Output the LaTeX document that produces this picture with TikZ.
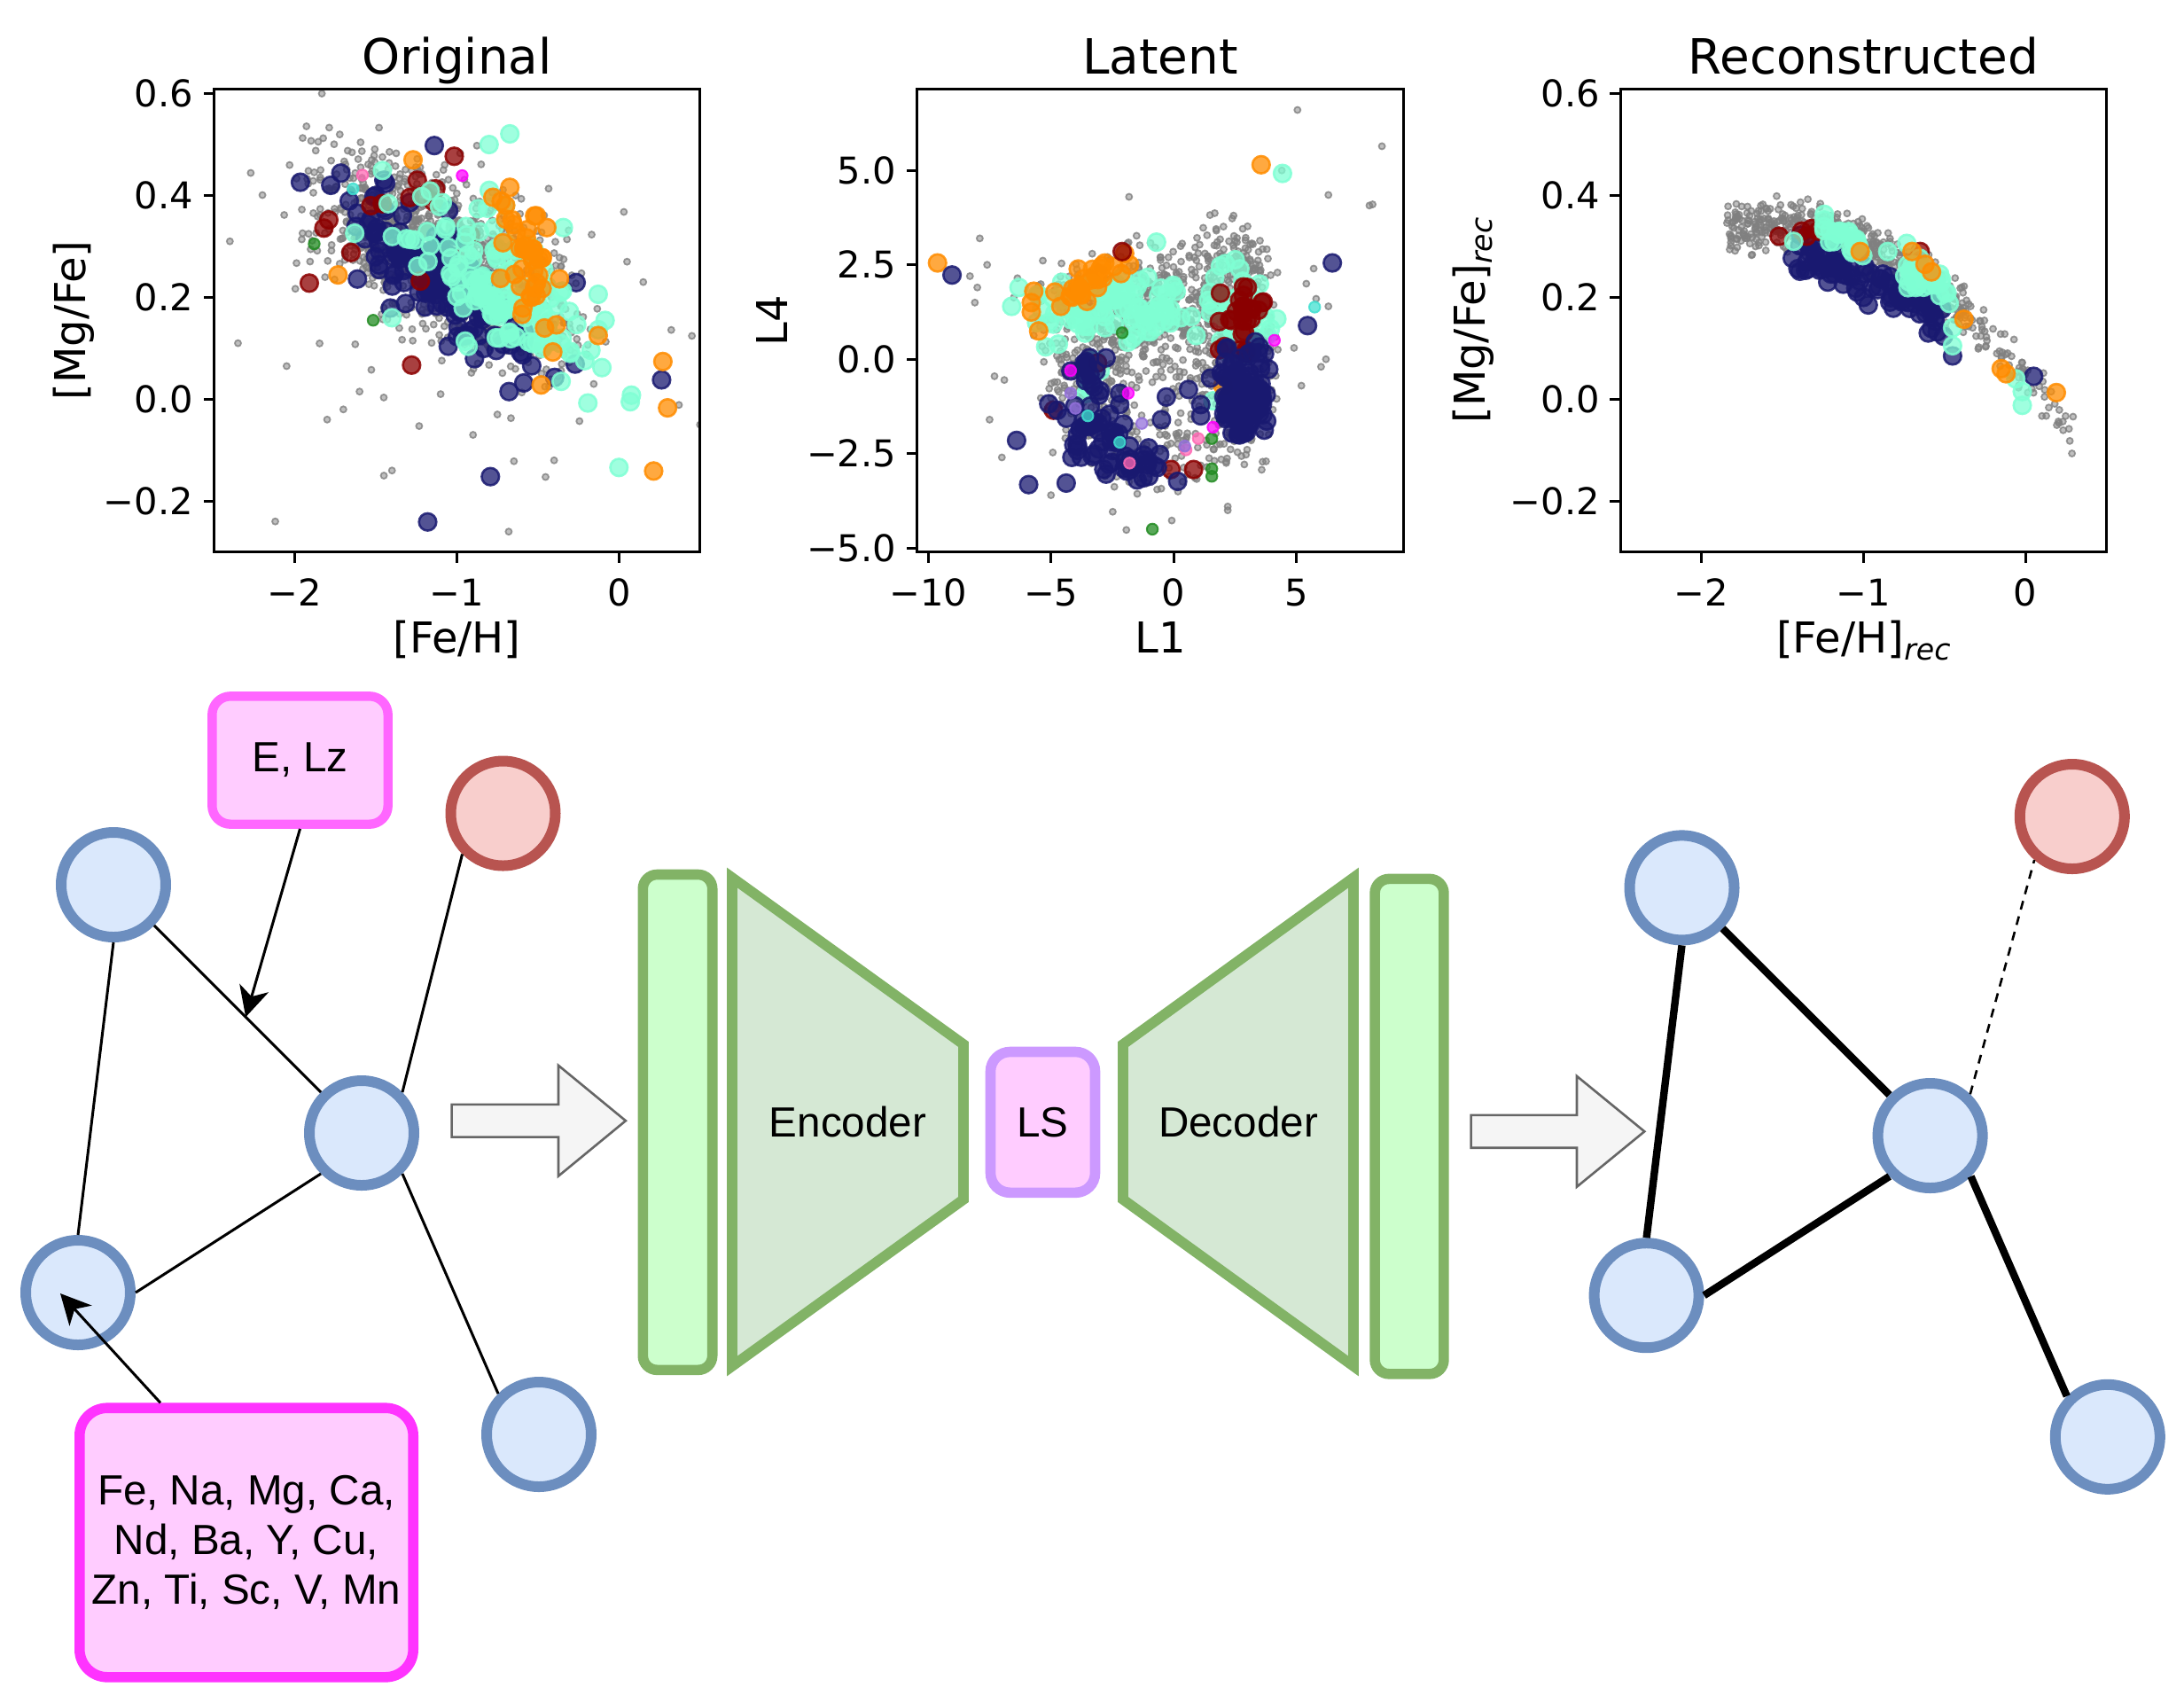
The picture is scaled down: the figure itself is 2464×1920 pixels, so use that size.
\documentclass[tikz,border=0pt]{standalone}
\usepackage{fontspec}
\setmainfont{Liberation Sans}
\newfontfamily\plotfont{DejaVu Sans}
\usetikzlibrary{arrows.meta,calc}
\definecolor{nodeblue}{HTML}{DAE8FC}
\definecolor{nodeblueB}{HTML}{6C8EBF}
\definecolor{nodered}{HTML}{F8CECC}
\definecolor{noderedB}{HTML}{B85450}
\definecolor{encfill}{HTML}{D5E8D4}
\definecolor{encdraw}{HTML}{82B366}
\definecolor{barfill}{HTML}{CCFFCC}
\definecolor{lsfill}{HTML}{FFCCFF}
\definecolor{lsdraw}{HTML}{CC99FF}
\definecolor{elzdraw}{HTML}{FF66FF}
\definecolor{abdraw}{HTML}{FF33FF}
\definecolor{arrfill}{HTML}{F5F5F5}
\definecolor{arrdraw}{HTML}{666666}
\definecolor{cnavy}{HTML}{191970}
\definecolor{cdred}{HTML}{8B0000}
\definecolor{corange}{HTML}{FF8C00}
\definecolor{caqua}{HTML}{7FFFD4}
\definecolor{cgreen}{HTML}{228B22}
\definecolor{cmag}{HTML}{FF00FF}
\definecolor{cpink}{HTML}{FF69B4}
\definecolor{cturq}{HTML}{40E0D0}
\definecolor{cpurp}{HTML}{9370DB}
\definecolor{cgray}{HTML}{808080}
\def\scr{3}
% gaussian-like cluster: N, style, cx, sx, cy, slope, sy
\newcommand\sccl[7]{%
  \foreach \k in {1,...,#1}{%
    \pgfmathsetmacro\xd{#3+#4*(rand+rand+rand)}%
    \pgfmathsetmacro\yd{#5+#6*(\xd-(#3))+#7*(rand+rand+rand)}%
    \fill[#2] ({\AX+\BX*(\xd)},{\AY-\BY*(\yd)}) circle[radius=\scr];}}
% cluster along curve: N, style, xmin, xrange, yoff, sy
\newcommand\sccc[6]{%
  \foreach \k in {1,...,#1}{%
    \pgfmathsetmacro\xd{#3+#4*rnd}%
    \pgfmathsetmacro\yd{0.0443-0.3495*(\xd)-0.1097*(\xd)*(\xd)+#5+#6*(rand+rand+rand)}%
    \fill[#2] ({\AX+\BX*(\xd)},{\AY-\BY*(\yd)}) circle[radius=\scr];}}
\newcommand\scpts[2]{\foreach \a/\b in {#2}{\fill[#1] ({\AX+\BX*(\a)},{\AY-\BY*(\b)}) circle[radius=\scr];}}
\begin{document}
\begin{tikzpicture}[x=0.25pt,y=-0.25pt,
  ticklab/.style={font={\plotfont\fontsize{10.4}{12}\selectfont},inner sep=0pt},
  axlab/.style={font={\plotfont\fontsize{12}{14}\selectfont},inner sep=0pt},
  ttl/.style={font={\plotfont\fontsize{13.7}{16}\selectfont},inner sep=0pt},
  axfr/.style={line width=0.75pt},
  gdot/.style={fill=cgray,fill opacity=0.5,draw=cgray,draw opacity=0.8,line width=0.45pt,/utils/exec=\def\scr{3.5}},
  scbig/.style={fill=#1,fill opacity=0.75,draw=#1,draw opacity=0.85,line width=0.65pt,/utils/exec=\def\scr{9.8}},
  scmed/.style={fill=#1,fill opacity=0.75,draw=#1,draw opacity=0.85,line width=0.5pt,/utils/exec=\def\scr{6.2}},
  dtext/.style={font={\fontsize{11.9}{14}\selectfont},inner sep=0pt},
  gnode/.style={circle,draw=nodeblueB,fill=nodeblue,line width=3pt,minimum size=29.5pt,inner sep=0pt},
  rnode/.style={gnode,draw=noderedB,fill=nodered},
  edgethin/.style={line width=0.75pt},
  edgebold/.style={line width=2.1pt},
  edgedash/.style={line width=0.65pt,dash pattern=on 2.5pt off 2pt},
  ptr/.style={-{Stealth[length=8.5pt,width=8.5pt,inset=2.5pt]}},
  barbox/.style={draw=encdraw,fill=barfill,line width=2.9pt,rounded corners=4pt,inner sep=0pt},
  trap/.style={draw=encdraw,fill=encfill,line width=2.9pt,miter limit=10},
  bigarrow/.style={draw=arrdraw,fill=arrfill,line width=0.65pt},
]
\useasboundingbox (0,0) rectangle (2464,1920);
\pgfmathsetseed{17}
%================ Plot 1: Original =================
\begin{scope}
\clip (241.1,100.3) rectangle (789.7,622.9);
\def\AX{698.3}\def\BX{182.9}\def\AY{450.3}\def\BY{574.5}
\sccl{1050}{gdot}{-1.1}{0.38}{0.28}{-0.15}{0.075}
\sccl{80}{gdot}{-0.9}{0.7}{0.2}{-0.1}{0.15}
\scpts{gdot}{-2.4/0.31,-2.35/0.11,-2.12/-0.24,-2.05/0.065,-1.8/-0.04,-1.7/-0.02,-1.6/0.015,-1.4/-0.14,-1.45/-0.15,-0.68/-0.26,0.5/-0.05,0.15/0.23,0.05/0.27,-0.9/-0.07,-0.4/-0.12,-1.1/0.01,-0.75/-0.03}
\sccl{140}{scbig=cnavy}{-1.1}{0.28}{0.24}{-0.23}{0.045}
\scpts{scbig=cnavy}{-1.965/0.426,-1.613/0.236,-1.18/-0.241,-0.793/-0.152,0.263/0.038,-0.264/0.229,-0.27/0.069,-0.678/0.015,-0.587/0.032,-1.053/0.104,-1.139/0.498,-1.41/0.179,-1.316/0.188,-1.45/0.43,-1.5/0.4,-1.05/0.37}
\scpts{scbig=cdred}{-1.016/0.477,-1.244/0.43,-1.13/0.413,-1.79/0.352,-1.82/0.336,-1.91/0.228,-1.653/0.288,-1.53/0.38,-1.46/0.384,-1.279/0.067,-1.225/0.232,-0.916/0.322,-1.29/0.396,-1.145/0.388,-1.2/0.40}
\sccl{130}{scbig=caqua}{-0.72}{0.27}{0.22}{-0.2}{0.06}
\scpts{scbig=caqua}{-0.673/0.521,-0.801/0.5,0.0/-0.134,0.077/0.008,0.07/-0.005,-0.128/0.206,-0.343/0.337,-1.459/0.449,-1.63/0.326,-1.4/0.16,-0.8/0.41,-0.7/0.38,-0.35/0.12,-0.3/0.09}
\sccl{35}{scbig=corange}{-0.55}{0.1}{0.27}{-0.5}{0.05}
\scpts{scbig=corange}{-1.27/0.47,-1.733/0.244,-0.673/0.416,-0.52/0.36,-0.445/0.337,-0.564/0.333,-0.128/0.125,-0.386/0.146,-0.48/0.028,-0.592/0.179,0.271/0.074,0.3/-0.017,0.214/-0.141,-0.644/0.245,-0.53/0.295}
\scpts{scmed=cgreen}{-1.88/0.305,-1.516/0.155}
\scpts{scmed=cmag}{-0.967/0.439}
\scpts{scmed=cpink}{-1.582/0.44}
\scpts{scmed=cturq}{-1.64/0.413}
\end{scope}
\draw[axfr] (241.1,100.3) rectangle (789.7,622.9);
\foreach \v/\lab [count=\i] in {0.6/0.6,0.4/0.4,0.2/0.2,0.0/0.0,-0.2/−0.2}{
  \draw[axfr] (241.1,{450.3-574.5*(\v)}) -- (229.5,{450.3-574.5*(\v)});
  \node[ticklab,anchor=east] (pay\i) at (218.6,{450.3-574.5*(\v)}) {\lab};}
\foreach \v/\lab [count=\i] in {-2/−2,-1/−1,0/0}{
  \draw[axfr] ({698.3+182.9*(\v)},622.9) -- ({698.3+182.9*(\v)},634.5);
  \node[ticklab,anchor=north] (pax\i) at ({698.3+182.9*(\v)},652) {\lab};}
\node[ttl,anchor=base] (t1) at (515.4,83.4) {Original};
\node[axlab,anchor=base] (x1) at (515.4,736) {[Fe/H]};
\node[axlab,anchor=base,rotate=90] (y1) at (96,361.5) {[Mg/Fe]};
%================ Plot 2: Latent =================
\begin{scope}
\clip (1034.4,100.3) rectangle (1583.6,622.9);
\def\AX{1324.2}\def\BX{27.7}\def\AY{405.2}\def\BY{42.6}
\sccl{480}{gdot}{-1.2}{2.0}{1.4}{0.05}{0.75}
\sccl{330}{gdot}{2.5}{0.8}{0.2}{0}{1.3}
\sccl{140}{gdot}{-3.5}{0.9}{-0.4}{0}{0.9}
\sccl{90}{gdot}{-0.8}{1.5}{-2.5}{0}{0.6}
\sccl{70}{gdot}{2.5}{1.0}{2.8}{0}{0.5}
\sccl{50}{gdot}{-0.7}{1.2}{-0.8}{0}{0.7}
\scpts{gdot}{5.04/6.6,8.48/5.64,7.97/4.07,8.1/4.1,6.3/4.35,-1.82/4.3,-7.9/3.2,-7.6/2.5,-8.0/1.9,-8.1/1.5,-8.3/2.2,-1.93/-4.52,-0.08/-4.27,2.2/-3.9,2.2/-4.0,4.4/5.0,5.4/2.0,5.7/2.4,6.3/1.4,6.2/0.0,-7.5/-1.6,-7.3/-0.45,-6.9/-0.55,-7.0/-2.6,-5.0/-3.6,6.0/-0.2,5.2/-0.7,4.9/0.3,5.8/1.6}
\sccl{90}{scbig=caqua}{-2.2}{1.4}{1.35}{0.08}{0.4}
\sccl{45}{scbig=caqua}{2.6}{0.7}{1.4}{0}{0.6}
\sccl{8}{scbig=caqua}{-3.4}{0.3}{-0.3}{0}{0.4}
\scpts{scbig=caqua}{4.43/4.92,-6.6/1.4,-6.3/1.9,-5.5/1.7,-4.7/0.4,-0.8/1.2,0.1/1.8,-0.7/3.1,1.6/-1.1,2.5/-0.45,3.0/0.1}
\sccl{25}{scbig=corange}{-3.3}{0.7}{2.1}{0.35}{0.25}
\scpts{scbig=corange}{-9.62/2.55,3.56/5.15,-5.7/1.8,-5.8/1.5,-5.8/1.25,-5.5/0.75,-4.6/1.4,2.0/-0.7,-2.0/2.8,-1.8/2.5}
\sccl{25}{scbig=cdred}{2.8}{0.45}{0.9}{0}{0.5}
\scpts{scbig=cdred}{-4.9/-1.35,-0.11/-2.92,0.81/-2.92,-2.1/2.85,3.0/1.9,-3.1/-0.1,3.6/1.5}
\sccl{130}{scbig=cnavy}{2.9}{0.45}{-0.9}{0}{0.55}
\sccl{40}{scbig=cnavy}{-3.2}{0.7}{-2.0}{0}{0.45}
\sccl{25}{scbig=cnavy}{-1.3}{0.7}{-2.8}{0}{0.35}
\sccl{15}{scbig=cnavy}{-3.5}{0.3}{-0.3}{0}{0.5}
\scpts{scbig=cnavy}{-9.03/2.23,6.46/2.55,5.45/0.89,-6.4/-2.15,-5.91/-3.32,-4.38/-3.28,-5.09/-1.18,-2.2/-0.9,-2.2/-1.2,-0.3/-1.0,-0.5/-1.6,0.6/-0.8,1.1/-1.2,1.1/-1.5,1.5/-0.5,-1.8/-2.3}
\scpts{scmed=cgreen}{-0.87/-4.5,1.55/-2.9,1.55/-3.1,1.55/-2.1,-2.1/0.7}
\scpts{scmed=cmag}{-1.85/-0.9,1.6/-1.8,4.1/0.5,-4.2/-0.3}
\scpts{scmed=cpink}{0.5/-2.4,-1.8/-2.75,1.0/-2.1}
\scpts{scmed=cpurp}{-4.2/-0.9,-1.3/-1.7,0.45/-2.3,-4.0/-1.3}
\scpts{scmed=cturq}{5.74/1.38,-3.5/-1.5,-2.2/-2.2}
\end{scope}
\draw[axfr] (1034.4,100.3) rectangle (1583.6,622.9);
\foreach \v/\lab [count=\i] in {5/5.0,2.5/2.5,0/0.0,-2.5/−2.5,-5/−5.0}{
  \draw[axfr] (1034.4,{405.2-42.6*(\v)}) -- (1022.8,{405.2-42.6*(\v)});
  \node[ticklab,anchor=east] (pby\i) at (1011.9,{405.2-42.6*(\v)}) {\lab};}
\foreach \v/\lab [count=\i] in {-10/−10,-5/−5,0/0,5/5}{
  \draw[axfr] ({1324.2+27.7*(\v)},622.9) -- ({1324.2+27.7*(\v)},634.5);
  \node[ticklab,anchor=north] (pbx\i) at ({1324.2+27.7*(\v)},652) {\lab};}
\node[ttl,anchor=base] (t2) at (1309,83.4) {Latent};
\node[axlab,anchor=base] (x2) at (1309,736) {L1};
\node[axlab,anchor=base,rotate=90] (y2) at (888,361.5) {L4};
%================ Plot 3: Reconstructed =================
\begin{scope}
\clip (1828,100.3) rectangle (2376.7,622.9);
\def\AX{2285.2}\def\BX{182.9}\def\AY{450.3}\def\BY{574.5}
\sccc{500}{gdot}{-1.85}{1.5}{0.018}{0.024}
\sccc{90}{gdot}{-0.5}{0.8}{0.0}{0.02}
\sccc{90}{scbig=cnavy}{-1.45}{0.95}{-0.04}{0.02}
\scpts{scbig=cnavy}{0.05/0.045,-0.45/0.085,-0.6/0.13,-1.22/0.23,-1.0/0.2,-0.97/0.185}
\scpts{scbig=cdred}{-1.52/0.32,-1.38/0.33,-1.32/0.335,-1.28/0.33,-1.35/0.32,-0.65/0.29}
\sccc{25}{scbig=caqua}{-1.25}{0.25}{0.02}{0.015}
\sccc{30}{scbig=caqua}{-0.75}{0.3}{0.01}{0.025}
\scpts{scbig=caqua}{-0.02/-0.012,-0.02/0.015,-0.45/0.105,-0.45/0.14,-0.06/0.04,-0.85/0.29,-1.43/0.31}
\scpts{scbig=corange}{-1.02/0.29,-0.62/0.265,-0.58/0.25,-0.7/0.29,-0.38/0.157,-0.15/0.06,-0.12/0.05,0.19/0.013}
\end{scope}
\draw[axfr] (1828,100.3) rectangle (2376.7,622.9);
\foreach \v/\lab [count=\i] in {0.6/0.6,0.4/0.4,0.2/0.2,0.0/0.0,-0.2/−0.2}{
  \draw[axfr] (1828,{450.3-574.5*(\v)}) -- (1816.4,{450.3-574.5*(\v)});
  \node[ticklab,anchor=east] (pcy\i) at (1805.5,{450.3-574.5*(\v)}) {\lab};}
\foreach \v/\lab [count=\i] in {-2/−2,-1/−1,0/0}{
  \draw[axfr] ({2285.2+182.9*(\v)},622.9) -- ({2285.2+182.9*(\v)},634.5);
  \node[ticklab,anchor=north] (pcx\i) at ({2285.2+182.9*(\v)},652) {\lab};}
\node[ttl,anchor=base] (t3) at (2102.3,83.4) {Reconstructed};
\node[axlab,anchor=base] (x3) at (2102.3,736) {[Fe/H]\raisebox{-2pt}{\fontsize{8.3}{10}\selectfont\itshape rec}};
\node[axlab,anchor=base,rotate=90] (y3) at (1675,361.5) {[Mg/Fe]\raisebox{-2pt}{\fontsize{8.3}{10}\selectfont\itshape rec}};
%================ Diagram: input graph =================
\node[gnode] (A) at (128,998) {};
\node[gnode] (B) at (408,1278) {};
\node[gnode] (C) at (88,1458) {};
\node[gnode] (D) at (608,1618) {};
\node[rnode] (R) at (567.5,917.5) {};
\draw[edgethin] (A.315) -- (B.135);
\draw[edgethin] (A.270) -- (C.90);
\draw[edgethin] (B.225) -- (C.0);
\draw[edgethin] (B.45) -- (R.225);
\draw[edgethin] (B.315) -- (D.135);
\node[dtext,draw=elzdraw,fill=lsfill,line width=2.6pt,rounded corners=5.2pt,minimum width=49.6pt,minimum height=36.1pt] (elz) at (338.5,857.5) {E, Lz};
\node[dtext,draw=abdraw,fill=lsfill,line width=2.9pt,rounded corners=7.8pt,minimum width=94.1pt,minimum height=75.9pt,align=center] (ab) at (278,1740) {Fe, Na, Mg, Ca,\\Nd, Ba, Y, Cu,\\Zn, Ti, Sc, V, Mn};
\path (A.315) -- (B.135) coordinate[pos=0.549] (mAB);
\draw[edgethin,ptr] (elz.south) -- (mAB);
\coordinate (cin) at ($(C)+(-20,1)$);
\draw[edgethin,ptr] ($(ab.north west)!0.25!(ab.north east)$) -- (cin);
%================ Diagram: big arrows =================
\draw[bigarrow] (509.6,1245.8) -- (630,1245.8) -- (630,1201.8) -- (705.9,1264.2) -- (630,1326.6) -- (630,1282.6) -- (509.6,1282.6) -- cycle;
\draw[bigarrow] (1659.6,1257.9) -- (1779,1257.9) -- (1779,1213.9) -- (1855.3,1276.3) -- (1779,1338.7) -- (1779,1294.7) -- (1659.6,1294.7) -- cycle;
%================ Diagram: autoencoder =================
\node[barbox,minimum width=19.6pt,minimum height=139.7pt] (inbar) at (764.5,1265.9) {};
\draw[trap] (826,990) -- (1087,1178) -- (1087,1353) -- (826,1541) -- cycle;
\node[dtext] (enc) at (956.5,1265.5) {Encoder};
\node[dtext,draw=lsdraw,fill=lsfill,line width=2.9pt,rounded corners=5.5pt,minimum width=29.5pt,minimum height=39.7pt] (ls) at (1176.5,1265.9) {LS};
\draw[trap] (1267,1178) -- (1527,990) -- (1527,1541) -- (1267,1353) -- cycle;
\node[dtext] (dec) at (1397,1265.5) {Decoder};
\node[barbox,minimum width=19.45pt,minimum height=139.6pt] (outbar) at (1590,1270.6) {};
%================ Diagram: output graph =================
\node[gnode] (A2) at (1897.5,1001.4) {};
\node[gnode] (B2) at (2177.6,1281) {};
\node[gnode] (C2) at (1857.6,1461.2) {};
\node[gnode] (D2) at (2377.8,1620.8) {};
\node[rnode] (R2) at (2337.8,921) {};
\draw[edgebold] (A2.270) -- (C2.90);
\draw[edgebold] (A2.315) -- (B2.135);
\draw[edgebold] (B2.225) -- (C2.0);
\draw[edgebold] (B2.315) -- (D2.135);
\draw[edgedash] (B2.46) -- (R2.229);
\end{tikzpicture}
\end{document}
